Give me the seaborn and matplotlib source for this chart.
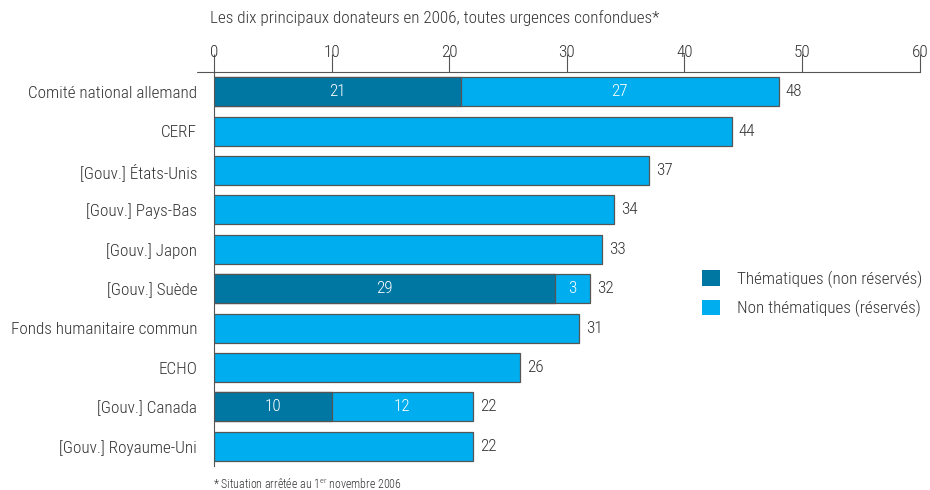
import matplotlib
matplotlib.use('Agg')
import matplotlib.pyplot as plt
from matplotlib.patches import Patch
import numpy as np
import pandas as pd
import seaborn as sns

# ──────────────────────────────────────────────────────────────────────
# Data (millions USD)
# ──────────────────────────────────────────────────────────────────────

donors = [
    'Comité national allemand', 'CERF', '[Gouv.] États-Unis', '[Gouv.] Pays-Bas',
    '[Gouv.] Japon', '[Gouv.] Suède', 'Fonds humanitaire commun', 'ECHO',
    '[Gouv.] Canada', '[Gouv.] Royaume-Uni',
]
thematic = [21, 0, 0, 0, 0, 29, 0, 0, 10, 0]
non_thematic = [27, 44, 37, 34, 33, 3, 31, 26, 12, 22]
x_ticks = [0, 10, 20, 30, 40, 50, 60]

DARK = '#0077a3'
LIGHT = '#00aeef'
EDGE = '#555555'
TEXT = '#333333'

sns.set_style('white')
plt.rcParams['font.family'] = ['Roboto Condensed', 'Barlow Condensed',
                               'Liberation Sans Narrow', 'DejaVu Sans']
plt.rcParams['font.weight'] = 300
plt.rcParams['text.color'] = TEXT
plt.rcParams['mathtext.fontset'] = 'custom'
plt.rcParams['mathtext.rm'] = 'Roboto Condensed:light'

df = pd.DataFrame({'donor': donors, 'thematic': thematic, 'non_thematic': non_thematic})
df['total'] = df['thematic'] + df['non_thematic']
stacked = df[df['thematic'] > 0]

fig = plt.figure(figsize=(9.3, 4.9), dpi=100)
ax = fig.add_axes([0.230, 0.049, 0.759, 0.804])

sns.barplot(data=df, x='total', y='donor', order=donors, color=LIGHT,
            edgecolor=EDGE, linewidth=0.9, width=0.74, saturation=1, ax=ax)
sns.barplot(data=stacked, x='thematic', y='donor', order=donors, color=DARK,
            edgecolor=EDGE, linewidth=0.9, width=0.74, saturation=1, ax=ax)

fs = 12.3
for i, row in df.iterrows():
    ax.text(row['total'] + 0.6, i, f"{row['total']}", va='center', ha='left',
            fontsize=fs, color=TEXT)
    if row['thematic'] > 0:
        ax.text(row['thematic'] / 2, i, f"{row['thematic']}", va='center',
                ha='center', fontsize=fs, color='white')
        ax.text(row['thematic'] + row['non_thematic'] / 2, i,
                f"{row['non_thematic']}", va='center', ha='center',
                fontsize=fs, color='white')

ax.set_xlim(0, 60)
ax.set_ylim(len(donors) - 0.5, -0.5)
ax.xaxis.tick_top()
ax.set_xticks(x_ticks)
ax.tick_params(axis='x', direction='out', length=13, width=0.8, color=EDGE,
               labelsize=fs, labelcolor=TEXT, pad=-4)
ax.set_yticks(np.arange(len(donors) + 1) - 0.5, minor=True)
ax.tick_params(axis='y', which='minor', direction='out', length=16, width=0.8,
               color=EDGE)
ax.tick_params(axis='y', which='major', length=0, labelsize=fs,
               labelcolor=TEXT, pad=12)
ax.set_xlabel('')
ax.set_ylabel('')

for side in ['right', 'bottom']:
    ax.spines[side].set_visible(False)
for side in ['top', 'left']:
    ax.spines[side].set_color(EDGE)
    ax.spines[side].set_linewidth(0.8)
# top axis line runs a little past 0 on the left
ax.plot([-0.0235, 0], [1, 1], transform=ax.transAxes, color=EDGE, lw=0.8,
        clip_on=False)

handles = [Patch(facecolor=DARK, edgecolor='none', label='Thématiques (non réservés)'),
           Patch(facecolor=LIGHT, edgecolor='none', label='Non thématiques (réservés)')]
fig.legend(handles=handles, loc='upper left', bbox_to_anchor=(702 / 930, 1 - 270 / 490),
           frameon=False, fontsize=fs, handlelength=1.05, handleheight=1.05,
           handletextpad=1.0, labelspacing=0.7, borderpad=0, borderaxespad=0,
           labelcolor=TEXT)

fig.text(210 / 930, 1 - 18 / 490, 'Les dix principaux donateurs en 2006, toutes urgences confondues*',
         ha='left', va='center', fontsize=fs, color=TEXT)
fig.text(213 / 930, 1 - 484 / 490, '* Situation arrêtée au 1$^{\\mathrm{er}}$ novembre 2006',
         ha='left', va='center', fontsize=8.6, color=TEXT)

fig.savefig('out.png', dpi=100)
plt.close(fig)
